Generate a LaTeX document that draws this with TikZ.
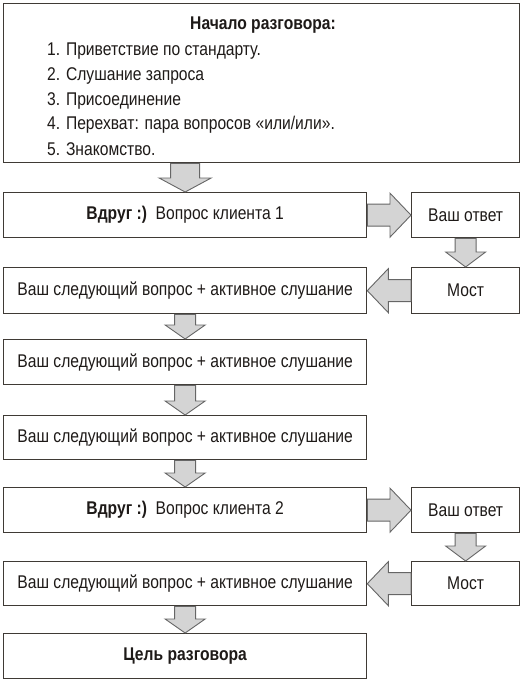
\documentclass[tikz,border=0pt]{standalone}
\usepackage{fontspec}
\setmainfont{Liberation Sans}[FakeStretch=0.85]
\usetikzlibrary{calc}
\definecolor{edge}{HTML}{3F3A35}
\definecolor{ink}{HTML}{1E1A18}
\definecolor{afill}{HTML}{D4D4D4}
\definecolor{aedge}{HTML}{666666}
\newcommand{\boxfont}{\fontsize{18.4}{21}\selectfont}
\tikzset{
  box/.style={draw=edge, line width=1.3pt, fill=white, anchor=north west, inner sep=0pt, text=ink, font=\boxfont},
  lbox/.style={box, minimum width=363pt, minimum height=45pt},
  rbox/.style={box, minimum width=108pt, minimum height=45pt},
  arr/.style={draw=aedge, fill=afill, line width=0.9pt, line join=miter},
  txt/.style={text=ink, inner sep=0pt, font=\boxfont}
}
% down arrow: source, target, shaft half width, head half width, head length
\newcommand{\darr}[5]{%
  \draw[arr] let \p1=(#1.south), \p2=(#2.north) in
    (\x2-#3pt,\y1) -- (\x2-#3pt,\y2+#5pt) -- (\x2-#4pt,\y2+#5pt) -- (\x2,\y2)
    -- (\x2+#4pt,\y2+#5pt) -- (\x2+#3pt,\y2+#5pt) -- (\x2+#3pt,\y1) -- cycle;}
% right arrow: source (left), target (right)
\newcommand{\rarr}[5]{%
  \draw[arr] let \p1=(#1.east), \p2=(#2.west) in
    (\x1,\y1+#3pt) -- (\x2-#5pt,\y1+#3pt) -- (\x2-#5pt,\y1+#4pt) -- (\x2,\y1)
    -- (\x2-#5pt,\y1-#4pt) -- (\x2-#5pt,\y1-#3pt) -- (\x1,\y1-#3pt) -- cycle;}
% left arrow: source (right), target (left)
\newcommand{\larr}[5]{%
  \draw[arr] let \p1=(#1.west), \p2=(#2.east) in
    (\x1,\y1+#3pt) -- (\x2+#5pt,\y1+#3pt) -- (\x2+#5pt,\y1+#4pt) -- (\x2,\y1)
    -- (\x2+#5pt,\y1-#4pt) -- (\x2+#5pt,\y1-#3pt) -- (\x1,\y1-#3pt) -- cycle;}
\begin{document}
\begin{tikzpicture}[x=1pt,y=-1pt]
\useasboundingbox (0,0) rectangle (523,681);
% top box
\node[box, minimum width=516pt, minimum height=159pt] (start) at (3,3) {};
\node[txt, font=\boxfont\bfseries] (title) at (263,25) {Начало разговора:};
\node[txt, anchor=west] (i1) at (47,51) {1. Приветствие по стандарту.};
\node[txt, anchor=west] (i2) at (47,76) {2. Слушание запроса};
\node[txt, anchor=west] (i3) at (47,101) {3. Присоединение};
\node[txt, anchor=west] (i4) at (47,125) {4. Перехват: пара вопросов «или/или».};
\node[txt, anchor=west] (i5) at (47,149) {5. Знакомство.};
% rows
\node[lbox] (q1) at (3,192) {\textbf{Вдруг :)}\ \ Вопрос клиента 1};
\node[rbox] (a1) at (411,192) {Ваш ответ};
\node[lbox, minimum height=46pt] (n1) at (3,267) {Ваш следующий вопрос + активное слушание};
\node[rbox, minimum height=46pt] (m1) at (411,267) {Мост};
\node[lbox] (n2) at (3,339) {Ваш следующий вопрос + активное слушание};
\node[lbox, minimum height=44pt] (n3) at (3,415) {Ваш следующий вопрос + активное слушание};
\node[lbox] (q2) at (3,487) {\textbf{Вдруг :)}\ \ Вопрос клиента 2};
\node[rbox] (a2) at (411,487) {Ваш ответ};
\node[lbox, minimum height=44pt] (n4) at (3,561) {Ваш следующий вопрос + активное слушание};
\node[rbox, minimum height=44pt] (m2) at (411,561) {Мост};
\node[lbox] (goal) at (3,633) {\textbf{Цель разговора}};
% arrows
\darr{start}{q1}{14.5}{26}{14}
\rarr{q1}{a1}{11}{22}{21}
\darr{a1}{m1}{10.5}{20}{15}
\larr{m1}{n1}{11}{22}{21}
\darr{n1}{n2}{10.5}{20}{14}
\darr{n2}{n3}{10.5}{20}{14}
\darr{n3}{q2}{10.5}{20}{14}
\rarr{q2}{a2}{11}{22}{21}
\darr{a2}{m2}{10.5}{20}{15}
\larr{m2}{n4}{11}{22}{21}
\darr{n4}{goal}{10.5}{20}{14}
\end{tikzpicture}
\end{document}
